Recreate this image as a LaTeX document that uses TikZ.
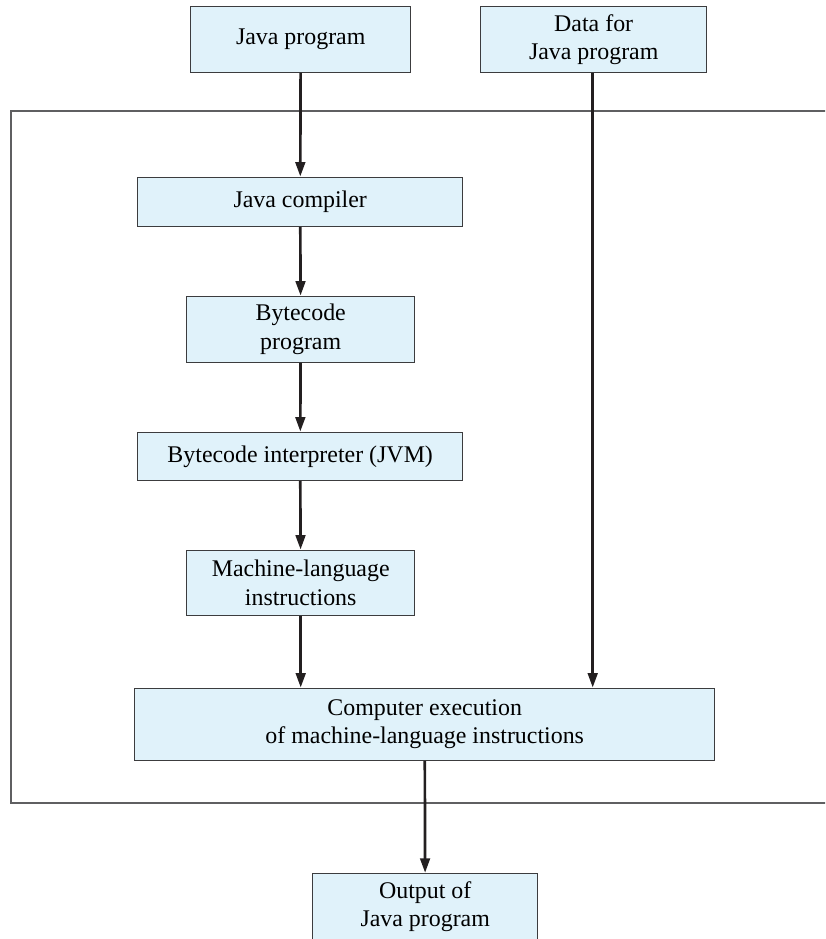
\documentclass[tikz,border=0pt]{standalone}
\usepackage{fontspec}
\setmainfont{Liberation Serif}
\newfontfamily\boxfont{Liberation Serif}
\usepackage{tikz}
\usetikzlibrary{calc}
\usetikzlibrary{positioning}
\usetikzlibrary{arrows.meta}

\definecolor{boxfill}{RGB}{224,242,250}
\definecolor{boxline}{RGB}{60,60,62}
\definecolor{frameline}{RGB}{95,95,97}
\definecolor{arrowline}{RGB}{35,31,32}

\tikzset{
  stage/.style={rectangle, draw=boxline, line width=1pt, fill=boxfill, align=center, anchor=south west,
                font=\boxfont\fontsize{17}{20}\selectfont, inner sep=0pt},
  flow/.style={arrowline, line width=1.9pt, ->},
}

\begin{document}
\begin{tikzpicture}[>={Triangle[length=0.36cm,width=0.24cm]}]

\clip (0,0) rectangle (20.625,23.475);
\useasboundingbox (0,0) rectangle (20.625,23.475);

%\draw[step=1cm, gray, very thin, dotted] (0,0) grid (21,24);

% outer frame, open on the right
\draw[frameline, line width=1.2pt] (21,20.7) -| (0.275,3.4) -- (21,3.4);

\node at (4.75,21.65) [stage, minimum height = 1.65cm, minimum width = 5.5cm] (prog)
		{Java program};

\node at (12,21.65) [stage, minimum height = 1.65cm, minimum width = 5.65cm] (data)
		{Data for\\ Java program};

\node at (3.425,17.8) [stage, minimum height = 1.225cm, minimum width = 8.125cm] (compiler)
		{Java compiler};

\node at (4.65,14.4) [stage, minimum height = 1.65cm, minimum width = 5.7cm] (bytecode)
		{Bytecode\\ program};

\node at (3.425,11.45) [stage, minimum height = 1.2cm, minimum width = 8.125cm] (jvm)
		{Bytecode interpreter (JVM)};

\node at (4.65,8.075) [stage, minimum height = 1.625cm, minimum width = 5.7cm] (mli)
		{Machine-language\\ instructions};

\node at (3.35,4.45) [stage, minimum height = 1.8cm, minimum width = 14.5cm] (exec)
		{Computer execution\\ of machine-language instructions};

\node at (7.8,-0.03) [stage, minimum height = 1.65cm, minimum width = 5.625cm] (output)
		{Output of\\ Java program};

\draw[flow] (prog) -- (compiler);
\draw[flow] (compiler) -- (bytecode);
\draw[flow] (bytecode) -- (jvm);
\draw[flow] (jvm) -- (mli);
\draw[flow] (mli.south) -- (mli.south |- exec.north);
\draw[flow] ([xshift=-0.025cm]data.south) -- ([xshift=-0.025cm]data.south |- exec.north);
\draw[flow] (exec) -- (output);

\end{tikzpicture}
\end{document}
